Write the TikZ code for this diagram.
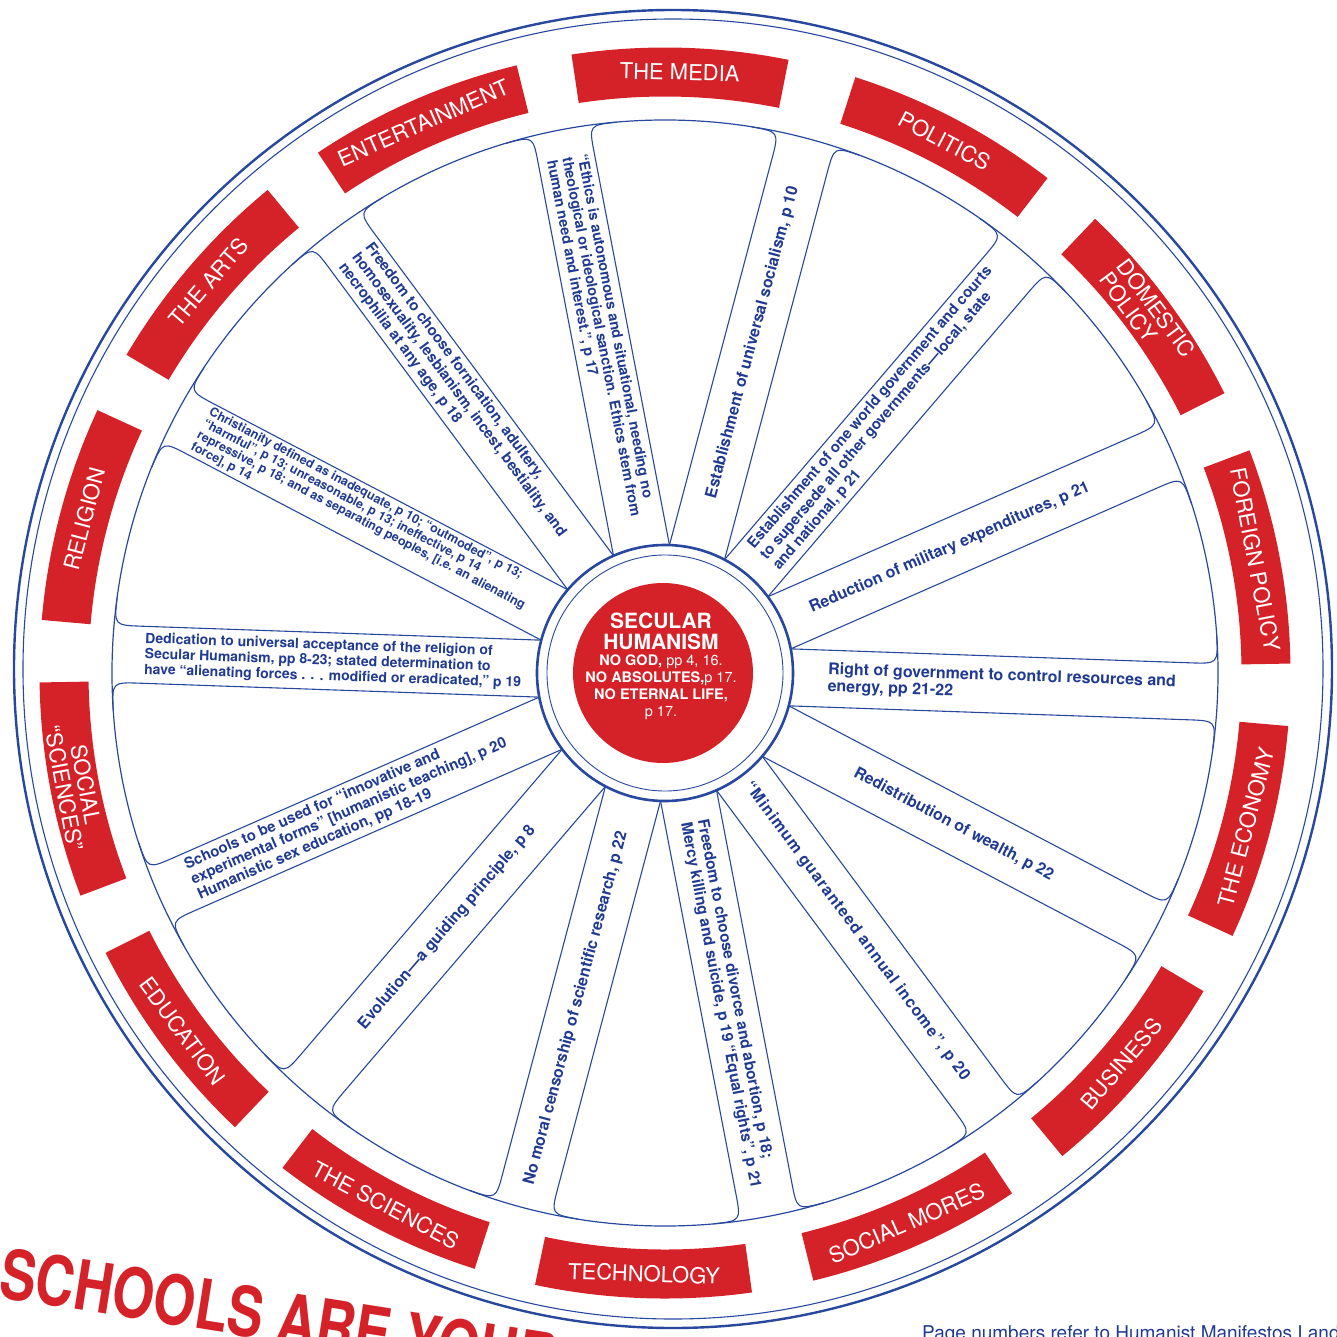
\documentclass[tikz,border=0pt]{standalone}
\usepackage{fontspec}
\setmainfont{TeX Gyre Heros}
\usetikzlibrary{positioning}
\definecolor{wheelblue}{RGB}{40,72,158}
\definecolor{inkblue}{RGB}{32,58,145}
\definecolor{tabred}{RGB}{213,33,40}
\tikzset{
  rim line/.style={draw=wheelblue, line width=1.2pt},
  spoke line/.style={draw=wheelblue, line width=1.1pt},
  redtab/.style={draw=tabred, line width=49pt},
  tab text/.style={text=white, font=\fontsize{22}{22}\selectfont, inner sep=0pt, align=center},
  spoke text/.style={text=inkblue, font=\fontsize{14}{15.5}\selectfont\bfseries, inner sep=0pt, align=left},
  one liner/.style={font=\fontsize{16}{17}\selectfont\bfseries},
  roomy/.style={font=\fontsize{15}{16.5}\selectfont\bfseries},
}

\begin{document}
\begin{tikzpicture}[x=1pt,y=1pt]
        \useasboundingbox (-665,-663) rectangle (672,673);
        \clip (-665,-663) rectangle (672,673);
        %Rings
        \draw [wheelblue, line width=2.4pt] (8,4) circle (659pt);
        \draw [wheelblue, line width=1.1pt] (8,4) circle (650pt);
        \draw [rim line] (0,0) circle (553pt);
        %Red tabs
        \draw [redtab, rotate=88.6] (-10:601) arc[start angle=-10, end angle=10, radius=601pt];
        \draw [redtab, rotate=62.29] (-10:601) arc[start angle=-10, end angle=10, radius=601pt];
        \draw [redtab, rotate=36.57] (-10:601) arc[start angle=-10, end angle=10, radius=601pt];
        \draw [redtab, rotate=10.86] (-10:601) arc[start angle=-10, end angle=10, radius=601pt];
        \draw [redtab, rotate=-14.86] (-10:601) arc[start angle=-10, end angle=10, radius=601pt];
        \draw [redtab, rotate=-40.57] (-10:601) arc[start angle=-10, end angle=10, radius=601pt];
        \draw [redtab, rotate=-66.29] (-10:601) arc[start angle=-10, end angle=10, radius=601pt];
        \draw [redtab, rotate=-92] (-10:601) arc[start angle=-10, end angle=10, radius=601pt];
        \draw [redtab, rotate=-117.71] (-10:601) arc[start angle=-10, end angle=10, radius=601pt];
        \draw [redtab, rotate=-143.43] (-10:601) arc[start angle=-10, end angle=10, radius=601pt];
        \draw [redtab, rotate=-169.14] (-10:601) arc[start angle=-10, end angle=10, radius=601pt];
        \draw [redtab, rotate=165.14] (-10:601) arc[start angle=-10, end angle=10, radius=601pt];
        \draw [redtab, rotate=139.43] (-10:601) arc[start angle=-10, end angle=10, radius=601pt];
        \draw [redtab, rotate=113.71] (-10:601) arc[start angle=-10, end angle=10, radius=601pt];
        %Tab names
        \node [tab text, rotate=-1.4] (media) at (88.6:601) {THE MEDIA};
        \node [tab text, rotate=-27.71] (politics) at (62.29:601) {POLITICS};
        \node [tab text, rotate=-53.43, align=left] (domestic) at (36.57:601) {DOMESTIC\\POLICY};
        \node [tab text, rotate=-79.14] (foreign) at (10.86:601) {FOREIGN POLICY};
        \node [tab text, rotate=75.14] (economy) at (-14.86:601) {THE ECONOMY};
        \node [tab text, rotate=49.43] (business) at (-40.57:601) {BUSINESS};
        \node [tab text, rotate=23.71] (mores) at (-66.29:601) {SOCIAL MORES};
        \node [tab text, rotate=-2] (technology) at (-92:601) {TECHNOLOGY};
        \node [tab text, rotate=-27.71] (sciences) at (-117.71:601) {THE SCIENCES};
        \node [tab text, rotate=-53.43] (education) at (-143.43:601) {EDUCATION};
        \node [tab text, rotate=-79.14] (socsci) at (-169.14:601) {SOCIAL\\“SCIENCES”};
        \node [tab text, rotate=75.14] (religion) at (165.14:601) {RELIGION};
        \node [tab text, rotate=49.43] (arts) at (139.43:601) {THE ARTS};
        \node [tab text, rotate=23.71] (entertainment) at (113.71:601) {ENTERTAINMENT};
        %Spokes (both edges, rounded into the rim)
        \draw [spoke line, rotate=100.86] (-5.85:553) .. controls (552.3,-28.5) .. (524,-28.5) -- (124.8,-28.5) (124.8,28.5) -- (524,28.5) .. controls (552.3,28.5) .. (5.85:553);
        \draw [spoke line, rotate=75.14] (-5.85:553) .. controls (552.3,-28.5) .. (524,-28.5) -- (124.8,-28.5) (124.8,28.5) -- (524,28.5) .. controls (552.3,28.5) .. (5.85:553);
        \draw [spoke line, rotate=49.43] (-5.85:553) .. controls (552.3,-28.5) .. (524,-28.5) -- (124.8,-28.5) (124.8,28.5) -- (524,28.5) .. controls (552.3,28.5) .. (5.85:553);
        \draw [spoke line, rotate=23.71] (-5.85:553) .. controls (552.3,-28.5) .. (524,-28.5) -- (124.8,-28.5) (124.8,28.5) -- (524,28.5) .. controls (552.3,28.5) .. (5.85:553);
        \draw [spoke line, rotate=-2] (-5.85:553) .. controls (552.3,-28.5) .. (524,-28.5) -- (124.8,-28.5) (124.8,28.5) -- (524,28.5) .. controls (552.3,28.5) .. (5.85:553);
        \draw [spoke line, rotate=-27.71] (-5.85:553) .. controls (552.3,-28.5) .. (524,-28.5) -- (124.8,-28.5) (124.8,28.5) -- (524,28.5) .. controls (552.3,28.5) .. (5.85:553);
        \draw [spoke line, rotate=-53.43] (-5.85:553) .. controls (552.3,-28.5) .. (524,-28.5) -- (124.8,-28.5) (124.8,28.5) -- (524,28.5) .. controls (552.3,28.5) .. (5.85:553);
        \draw [spoke line, rotate=-79.14] (-5.85:553) .. controls (552.3,-28.5) .. (524,-28.5) -- (124.8,-28.5) (124.8,28.5) -- (524,28.5) .. controls (552.3,28.5) .. (5.85:553);
        \draw [spoke line, rotate=-104.86] (-5.85:553) .. controls (552.3,-28.5) .. (524,-28.5) -- (124.8,-28.5) (124.8,28.5) -- (524,28.5) .. controls (552.3,28.5) .. (5.85:553);
        \draw [spoke line, rotate=-130.57] (-5.85:553) .. controls (552.3,-28.5) .. (524,-28.5) -- (124.8,-28.5) (124.8,28.5) -- (524,28.5) .. controls (552.3,28.5) .. (5.85:553);
        \draw [spoke line, rotate=-156.29] (-5.85:553) .. controls (552.3,-28.5) .. (524,-28.5) -- (124.8,-28.5) (124.8,28.5) -- (524,28.5) .. controls (552.3,28.5) .. (5.85:553);
        \draw [spoke line, rotate=178] (-5.85:553) .. controls (552.3,-28.5) .. (524,-28.5) -- (124.8,-28.5) (124.8,28.5) -- (524,28.5) .. controls (552.3,28.5) .. (5.85:553);
        \draw [spoke line, rotate=152.29] (-5.85:553) .. controls (552.3,-28.5) .. (524,-28.5) -- (124.8,-28.5) (124.8,28.5) -- (524,28.5) .. controls (552.3,28.5) .. (5.85:553);
        \draw [spoke line, rotate=126.57] (-5.85:553) .. controls (552.3,-28.5) .. (524,-28.5) -- (124.8,-28.5) (124.8,28.5) -- (524,28.5) .. controls (552.3,28.5) .. (5.85:553);
        %Hub
        \draw [wheelblue, line width=2.6pt] (0,0) circle (128pt);
        \draw [wheelblue, line width=0.9pt] (0,0) circle (118pt);
        \fill [tabred] (-2,0) circle (90pt);
        \node [text=white, font=\fontsize{21}{21}\selectfont\bfseries, align=center, inner sep=0pt] (secular) at (-4,42) {SECULAR\\HUMANISM};
        \node [text=white, font=\fontsize{14.5}{17}\selectfont\bfseries, align=center, inner sep=0pt, below=5pt of secular] (tenets) {NO GOD, {\mdseries pp 4, 16.}\\NO ABSOLUTES,{\mdseries p 17.}\\NO ETERNAL LIFE,\\{\mdseries p 17.}};
        %Spoke texts
        \node [spoke text, font=\fontsize{14.5}{15.5}\selectfont\bfseries, rotate=-79.14] (ethics) at (100.86:342) {“Ethics is autonomous and situational, needing no\\theological or ideological sanction. Ethics stem from\\human need and interest.”, p 17};
        \node [spoke text, one liner, rotate=75.14] (socialism) at (75.14:342) {Establishment of universal socialism, p 10};
        \node [spoke text, roomy, rotate=49.43] (oneworld) at (49.43:335) {Establishment of one world government and courts\\to supersede all other governments—local, state\\and national, p 21};
        \node [spoke text, one liner, rotate=23.71] (military) at (23.71:311) {Reduction of military expenditures, p 21};
        \node [spoke text, font=\fontsize{16}{17}\selectfont\bfseries, rotate=-2] (resources) at (-2:337) {Right of government to control resources and\\energy, pp 21-22};
        \node [spoke text, one liner, rotate=-27.71] (wealth) at (-27.71:326) {Redistribution of wealth, p 22};
        \node [spoke text, font=\fontsize{16}{17}\selectfont\bfseries\addfontfeatures{LetterSpace=6}, rotate=-53.43] (income) at (-53.43:322) {“Minimum guaranteed annual income”, p 20};
        \node [spoke text, font=\fontsize{15.5}{17}\selectfont\bfseries, rotate=-79.14] (divorce) at (-79.14:337) {Freedom to choose divorce and abortion, p 18;\\Mercy killing and suicide, p 19 “Equal rights”, p 21};
        \node [spoke text, one liner, rotate=75.14] (censorship) at (-104.86:347) {No moral censorship of scientific research, p 22};
        \node [spoke text, one liner, rotate=49.43] (evolution) at (-130.57:335) {Evolution—a guiding principle, p 8};
        \node [spoke text, roomy, rotate=23.71] (schools) at (-156.29:345) {Schools to be used for “innovative and\\experimental forms” [humanistic teaching], p 20\\Humanistic sex education, pp 18-19};
        \node [spoke text, rotate=-2] (dedication) at (178:332) {Dedication to universal acceptance of the religion of\\Secular Humanism, pp 8-23; stated determination to\\have “alienating forces . . . modified or eradicated,” p 19};
        \node [spoke text, font=\fontsize{12.5}{13}\selectfont\bfseries, rotate=-27.71] (christianity) at (152.29:340) {Christianity defined as inadequate, p 10; “outmoded”, p 13;\\“harmful”, p 13; unreasonable, p 13; ineffective, p 14\\repressive, p 18; and as separating peoples, [i.e. an alienating\\force], p 14};
        \node [spoke text, roomy, rotate=-53.43] (fornication) at (126.57:346) {Freedom to choose fornication, adultery,\\homosexuality, lesbianism, incest, bestiality, and\\necrophilia at any age, p 18};
        %Headline and note at the foot
        \node [rotate=-9, xscale=0.78, anchor=base west, inner sep=0pt, text=tabred, font=\fontsize{69}{69}\selectfont\bfseries] (headline) at (-668,-624) {SCHOOLS ARE YOUR};
        \node [anchor=base west, inner sep=0pt, text=inkblue, font=\fontsize{19}{20}\selectfont] (pagenote) at (257,-666) {Page numbers refer to Humanist Manifestos I and};
\end{tikzpicture}
\end{document}
